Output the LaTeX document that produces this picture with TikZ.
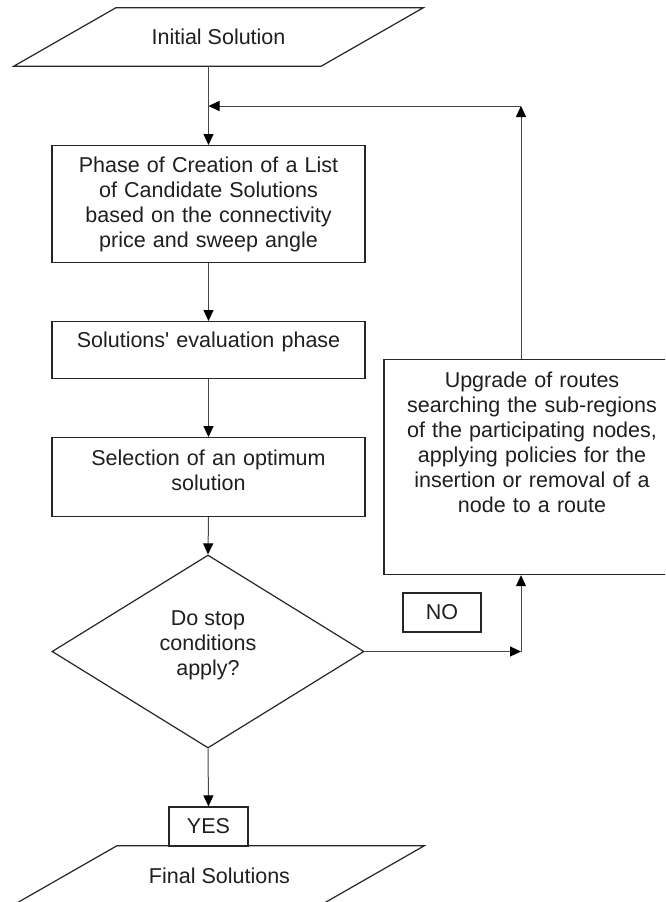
\documentclass[tikz,border=0pt]{standalone}
\usepackage{fontspec}
\setmainfont{Liberation Sans}
\usetikzlibrary{arrows.meta,shapes.geometric,calc}
\begin{document}
\begin{tikzpicture}[x=1pt,y=-1pt,
  every node/.style={font=\fontsize{21.5}{25}\selectfont, text=black!88},
  stepbox/.style={draw=black!85, line width=1.2pt, inner xsep=0pt, inner ysep=0pt,
                  align=center, anchor=north},
  tag/.style={draw=black!85, line width=1.2pt, minimum width=78pt, minimum height=39pt, inner sep=0pt},
  io/.style={minimum width=307pt, minimum height=58pt, inner sep=0pt},
  ioedge/.style={line width=1.2pt, black!85},
  arr/.style={draw=black!72, line width=1pt,
              -{Triangle[length=11pt,width=10pt,fill=black,color=black]}},
]
\clip (0,0) rectangle (665,902);
\fill[white] (0,0) rectangle (665,902);

% input / output parallelograms
\node[io] (init) at (218.5,37) {Initial Solution};
\draw[ioedge] ($(init.north west)+(51,0)$) -- ($(init.north east)+(51,0)$)
  -- ($(init.south east)+(-51,0)$) -- ($(init.south west)+(-51,0)$) -- cycle;

\node[io] (fin) at (219.5,876) {Final Solutions};
\draw[ioedge] ($(fin.north west)+(51,-1)$) -- ($(fin.north east)+(51,-1)$)
  -- ($(fin.south east)+(-51,-1)$) -- ($(fin.south west)+(-51,-1)$) -- cycle;

% process boxes
\node[stepbox, text width=313pt, text height=27pt, text depth=90pt] (b1) at (208.5,145)
  {Phase of Creation of a List\\ of Candidate Solutions\\ based on the connectivity\\ price and sweep angle};
\node[stepbox, text width=313pt, text height=26pt, text depth=31pt] (b2) at (208.5,321)
  {Solutions\textquotesingle\ evaluation phase};
\node[stepbox, text width=313pt, text height=28pt, text depth=51pt] (b3) at (208.5,437)
  {Selection of an optimum\\ solution};
\node[stepbox, text width=296pt, text height=28pt, text depth=187pt] (rb) at (532,359)
  {Upgrade of routes\\ searching the sub-regions\\ of the participating nodes,\\ applying policies for the\\ insertion or removal of a\\ node to a route};

% decision
\node[diamond, draw=black!85, line width=1.2pt, minimum width=312pt, minimum height=193pt,
      inner sep=0pt, label={[align=center, yshift=6.5pt]center:Do stop\\ conditions\\ apply?}]
  (dia) at (208,651.5) {};

% branch tags
\node[tag] (no) at (442,612.5) {NO};
\node[tag, minimum width=79pt] (yes) at (208.5,826.5) {YES};

% connectors
\coordinate (fb) at (521,106);
\coordinate (nc) at (521,651.5);
\draw[arr] (b1.north |- init.south) -- (b1.north);
\draw[arr] (fb |- rb.north) -- (fb);
\draw[arr] (fb) -- (fb -| b1.north);
\draw[arr] (b1.south) -- (b2.north);
\draw[arr] (b2.south) -- (b3.north);
\draw[arr] (b3.south) -- (dia.north);
\draw[arr] (dia.east) -- (nc);
\draw[arr] (nc) -- (nc |- rb.south);
\draw[arr] (dia.south) -- (yes.north);
\end{tikzpicture}
\end{document}
